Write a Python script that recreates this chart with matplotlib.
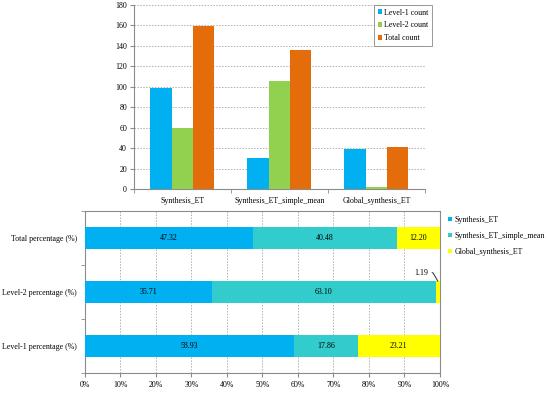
import matplotlib.pyplot as plt
import numpy as np
from matplotlib.ticker import FixedLocator, PercentFormatter

plt.rcParams['font.family'] = ['Liberation Serif', 'DejaVu Serif']

# top chart data
products = ["Synthesis_ET", "Synthesis_ET_simple_mean", "Global_synthesis_ET"]
level1_count = [99, 30, 39]
level2_count = [60, 106, 2]
total_count = [159, 136, 41]

# bottom chart data
pct_rows = ["Level-1 percentage (%)", "Level-2 percentage (%)", "Total percentage (%)"]
pct_synthesis = [58.93, 35.71, 47.32]
pct_simple_mean = [17.86, 63.10, 40.48]
pct_global = [23.21, 1.19, 12.20]

fig = plt.figure(figsize=(5.5, 3.94), dpi=100)
fs = 5.7
grid_col = '#b0b0b0'
axis_col = '#8c8c8c'

# ---------- top: grouped counts ----------
ax1 = fig.add_axes([0.2436, 0.5203, 0.529, 0.467])
x = np.arange(len(products))
w = 0.22
ax1.bar(x - w, level1_count, w, color='#00b0f0', label='Level-1 count', zorder=3)
ax1.bar(x, level2_count, w, color='#92d050', label='Level-2 count', zorder=3)
ax1.bar(x + w, total_count, w, color='#e46c0a', label='Total count', zorder=3)

ax1.set_xlim(-0.5, 2.5)
ax1.set_ylim(0, 180)
ax1.set_yticks(np.arange(0, 181, 20))
ax1.set_xticks(x)
ax1.set_xticklabels(products)
ax1.xaxis.set_minor_locator(FixedLocator([-0.5, 0.5, 1.5, 2.5]))
ax1.tick_params(axis='x', which='major', length=0, labelsize=fs, pad=6)
ax1.tick_params(axis='x', which='minor', length=3, color=axis_col)
ax1.tick_params(axis='y', length=3, color=axis_col, labelsize=fs, pad=2)
ax1.yaxis.grid(True, linestyle=(0, (1.5, 1.5)), color=grid_col, linewidth=0.7, zorder=0)
for s in ['top', 'right']:
    ax1.spines[s].set_visible(False)
for s in ['left', 'bottom']:
    ax1.spines[s].set_color(axis_col)
    ax1.spines[s].set_linewidth(0.8)

leg1 = ax1.legend(loc='upper right', bbox_to_anchor=(1.025, 1.0), fontsize=fs,
                  frameon=True, fancybox=False, handlelength=0.5, handleheight=0.5,
                  handletextpad=0.3, labelspacing=0.6, borderpad=0.45, borderaxespad=0)
leg1.get_frame().set_edgecolor('#7f7f7f')
leg1.get_frame().set_linewidth(0.7)

# ---------- bottom: stacked percentages ----------
ax2 = fig.add_axes([0.1545, 0.0533, 0.6455, 0.411])
y = np.arange(len(pct_rows))
h = 0.4
b1 = ax2.barh(y, pct_synthesis, h, color='#00b0f0', label='Synthesis_ET', zorder=3)
left2 = np.array(pct_synthesis)
b2 = ax2.barh(y, pct_simple_mean, h, left=left2, color='#33cccc',
              label='Synthesis_ET_simple_mean', zorder=3)
left3 = left2 + np.array(pct_simple_mean)
b3 = ax2.barh(y, pct_global, h, left=left3, color='#ffff00',
              label='Global_synthesis_ET', zorder=3)

for bars, vals in [(b1, pct_synthesis), (b2, pct_simple_mean), (b3, pct_global)]:
    for bar, v in zip(bars, vals):
        if v < 5:
            continue
        ax2.text(bar.get_x() + bar.get_width() / 2, bar.get_y() + bar.get_height() / 2,
                 f"{v:.2f}", ha='center', va='center', fontsize=fs, zorder=4)

# small slice gets a callout
i_small = int(np.argmin(pct_global))
ax2.annotate(f"{pct_global[i_small]:.2f}",
             xy=(left3[i_small] + pct_global[i_small] / 2, y[i_small] + h / 2),
             xytext=(left3[i_small] - 2.2, y[i_small] + 0.36),
             ha='right', va='center', fontsize=fs,
             arrowprops=dict(arrowstyle='-', color='#404040', lw=0.8,
                             shrinkA=1, shrinkB=0,
                             connectionstyle='angle,angleA=0,angleB=120,rad=1'))

ax2.set_xlim(0, 100)
ax2.set_ylim(-0.5, 2.5)
ax2.set_xticks(np.arange(0, 101, 10))
ax2.xaxis.set_major_formatter(PercentFormatter(decimals=0))
ax2.set_yticks(y)
ax2.set_yticklabels(pct_rows)
ax2.yaxis.set_minor_locator(FixedLocator([-0.5, 0.5, 1.5, 2.5]))
ax2.tick_params(axis='y', which='major', length=0, labelsize=fs, pad=6)
ax2.tick_params(axis='y', which='minor', length=3, color=axis_col)
ax2.tick_params(axis='x', length=3, color=axis_col, labelsize=fs, pad=3)
ax2.xaxis.grid(True, linestyle=(0, (1.5, 1.5)), color=grid_col, linewidth=0.7, zorder=0)
for s in ax2.spines.values():
    s.set_color(axis_col)
    s.set_linewidth(0.8)

ax2.legend(loc='upper left', bbox_to_anchor=(1.01, 1.0), fontsize=fs, frameon=False,
           handlelength=0.5, handleheight=0.5, handletextpad=0.3, labelspacing=1.0,
           borderaxespad=0.2)

fig.savefig('out.png', dpi=100)
